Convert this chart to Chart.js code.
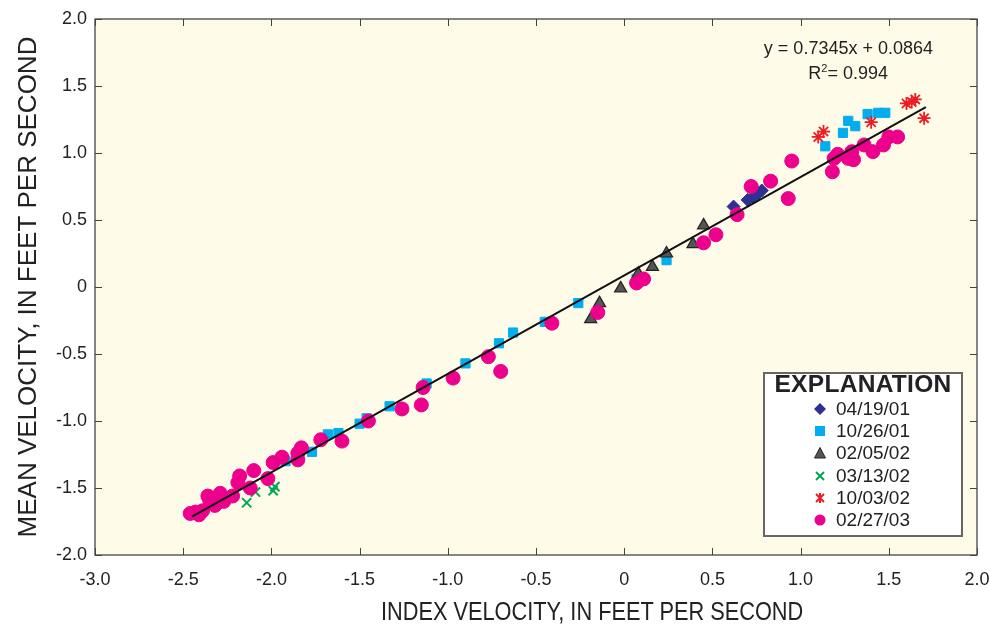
<!DOCTYPE html>
<html>
<head>
<meta charset="utf-8">
<script src="https://cdn.jsdelivr.net/npm/chart.js@4/dist/chart.umd.min.js"></script>
<style>
  body { margin: 0; background: #fff; }
  #wrap { position: relative; width: 989px; height: 627px; }
  #eq { position: absolute; left: 711px; top: 36px; width: 222px; text-align: right;
        font-family: "Liberation Sans", Arial, sans-serif; font-size: 18px; color: #222; line-height: 25px; }
  #eq .r2 { display: inline-block; margin-right: 45px; }
  #eq sup { font-size: 11px; line-height: 0; }
  #xtitle { position: absolute; left: 355px; top: 597px; width: 400px; text-align: center; white-space: nowrap;
            font-family: "Liberation Sans", Arial, sans-serif; font-size: 25px; color: #222;
            transform: scaleX(0.87); transform-origin: center; }
  #legend { position: absolute; left: 763px; top: 372px; width: 196px; height: 161px;
            background: #fff; border: 2px solid #666; font-family: "Liberation Sans", Arial, sans-serif; color: #222; }
  #legend .ttl { position: absolute; left: 0; right: 0; top: -4px; font-weight: bold; font-size: 24.5px; text-align: center; letter-spacing: 0.3px; }
  #legend .row { position: absolute; left: 0; font-size: 19px; height: 22px; line-height: 22px; }
  #legend .row svg { position: absolute; left: 49px; top: 5px; }
  #legend .row span { position: absolute; left: 71px; white-space: nowrap; }
</style>
</head>
<body>
<div id="wrap">
  <canvas id="chart" width="989" height="627"></canvas>
  <div id="eq">y = 0.7345x + 0.0864<br><span class="r2">R<sup>2</sup>= 0.994</span></div>
  <div id="xtitle">INDEX VELOCITY, IN FEET PER SECOND</div>
  <div id="legend"><div class="ttl">EXPLANATION</div></div>
</div>
<script>
// 数据：各测量日期的 (指数流速, 平均流速)
const labels = ['04/19/01', '10/26/01', '02/05/02', '03/13/02', '10/03/02', '02/27/03'];

const x041901 = [0.62, 0.70, 0.73, 0.76, 0.78];
const y041901 = [0.60, 0.65, 0.67, 0.70, 0.72];

const x102601 = [-1.92, -1.77, -1.68, -1.62, -1.50, -1.46, -1.33, -1.12, -0.90, -0.71, -0.63, -0.45, -0.26, 0.07, 0.24, 1.14, 1.24, 1.27, 1.31, 1.38, 1.44, 1.48];
const y102601 = [-1.30, -1.23, -1.10, -1.09, -1.02, -0.98, -0.89, -0.72, -0.57, -0.42, -0.34, -0.26, -0.12, 0.06, 0.20, 1.05, 1.15, 1.24, 1.20, 1.29, 1.30, 1.30];

const x020502 = [-0.19, -0.14, -0.02, 0.08, 0.16, 0.24, 0.39, 0.45];
const y020502 = [-0.24, -0.12, -0.01, 0.10, 0.15, 0.25, 0.32, 0.46];

const x031302 = [-2.14, -2.09, -1.99, -1.98];
const y031302 = [-1.61, -1.53, -1.52, -1.49];

const x100302 = [1.10, 1.13, 1.40, 1.60, 1.63, 1.65, 1.70];
const y100302 = [1.12, 1.16, 1.23, 1.37, 1.38, 1.40, 1.26];

const x022703 = [-2.46, -2.43, -2.41, -2.39, -2.36, -2.35, -2.33, -2.32, -2.31, -2.29, -2.27, -2.22, -2.19, -2.18, -2.12, -2.10, -2.02, -1.99, -1.94, -1.85, -1.85, -1.83, -1.72, -1.60, -1.45, -1.26, -1.15, -1.14, -0.97, -0.77, -0.70, -0.41, -0.15, 0.07, 0.11, 0.45, 0.52, 0.64, 0.72, 0.83, 0.93, 0.95, 1.18, 1.19, 1.21, 1.27, 1.30, 1.29, 1.36, 1.41, 1.47, 1.50, 1.55];
const y022703 = [-1.69, -1.68, -1.70, -1.67, -1.56, -1.59, -1.61, -1.63, -1.58, -1.54, -1.60, -1.56, -1.46, -1.41, -1.50, -1.37, -1.43, -1.31, -1.27, -1.29, -1.24, -1.20, -1.14, -1.15, -1.00, -0.91, -0.88, -0.75, -0.68, -0.52, -0.63, -0.27, -0.19, 0.03, 0.06, 0.33, 0.39, 0.54, 0.75, 0.79, 0.66, 0.94, 0.86, 0.96, 0.99, 0.96, 0.95, 1.01, 1.06, 1.01, 1.06, 1.12, 1.12];

// 回归线
const slope = 0.7345;
const intercept = 0.0864;
const fitX = [-2.45, 1.71];

const xTicks = [-3, -2.5, -2, -1.5, -1, -0.5, 0, 0.5, 1, 1.5, 2];
const yTicks = [-2, -1.5, -1, -0.5, 0, 0.5, 1, 1.5, 2];

const styles = [
    { style: 'rectRot', color: '#2e3192', border: '#2e3192', r: 6.5, bw: 1 },
    { style: 'rect', color: '#00aeef', border: '#00aeef', r: 6.5, bw: 1 },
    { style: 'triangle', color: '#555', border: '#222', r: 7, bw: 1.2 },
    { style: 'crossRot', color: '#00a651', border: '#00a651', r: 6.5, bw: 2 },
    { style: 'star', color: '#ed1c24', border: '#ed1c24', r: 6.5, bw: 1.8 },
    { style: 'circle', color: '#ec008c', border: '#ec008c', r: 7, bw: 1 }
];
const xs = [x041901, x102601, x020502, x031302, x100302, x022703];
const ys = [y041901, y102601, y020502, y031302, y100302, y022703];

function pts(xa, ya) {
    return xa.map((v, i) => ({ x: v, y: ya[i] }));
}

const datasets = [{
    type: 'line',
    data: fitX.map(v => ({ x: v, y: slope * v + intercept })),
    borderColor: '#111',
    borderWidth: 2,
    pointRadius: 0,
    fill: false,
    order: 0
}];
// 绘制顺序：粉色圆点在最下面
[5, 1, 2, 0, 3, 4].forEach(i => {
    const s = styles[i];
    datasets.push({
        label: labels[i],
        data: pts(xs[i], ys[i]),
        pointStyle: s.style,
        pointRadius: s.r,
        pointBackgroundColor: s.color,
        pointBorderColor: s.border,
        pointBorderWidth: s.bw,
        order: 10 - i
    });
});

// 图例（HTML）
const legendEl = document.getElementById('legend');
const svgs = {
    rectRot: c => `<polygon points="6,0 12,6 6,12 0,6" fill="${c}"/>`,
    rect: c => `<rect x="1" y="1" width="10" height="10" fill="${c}"/>`,
    triangle: c => `<polygon points="6,0.5 11.5,11 0.5,11" fill="#555" stroke="#222" stroke-width="1"/>`,
    crossRot: c => `<path d="M2,2 L10,10 M10,2 L2,10" stroke="${c}" stroke-width="2"/>`,
    star: c => `<path d="M2,2 L10,10 M10,2 L2,10 M6,1 L6,11" stroke="${c}" stroke-width="2"/>`,
    circle: c => `<circle cx="6" cy="6" r="5.5" fill="${c}"/>`
};
labels.forEach((lab, i) => {
    const row = document.createElement('div');
    row.className = 'row';
    row.style.top = (24 + i * 22.2) + 'px';
    row.innerHTML = `<svg width="12" height="12">${svgs[styles[i].style](styles[i].color)}</svg><span>${lab}</span>`;
    legendEl.appendChild(row);
});

// 背景和内向刻度
const framePlugin = {
    id: 'frame',
    beforeDraw(chart) {
        const { ctx, chartArea: a } = chart;
        ctx.save();
        ctx.fillStyle = '#fefbe9';
        ctx.fillRect(a.left, a.top, a.right - a.left, a.bottom - a.top);
        ctx.restore();
    },
    afterDatasetsDraw(chart) {
        const { ctx, chartArea: a, scales } = chart;
        ctx.save();
        ctx.strokeStyle = '#444';
        ctx.lineWidth = 1.3;
        ctx.strokeRect(a.left, a.top, a.right - a.left, a.bottom - a.top);
        ctx.lineWidth = 1;
        const len = 7;
        xTicks.forEach(v => {
            const px = Math.round(scales.x.getPixelForValue(v)) + 0.5;
            ctx.beginPath();
            ctx.moveTo(px, a.bottom); ctx.lineTo(px, a.bottom - len);
            ctx.moveTo(px, a.top); ctx.lineTo(px, a.top + len);
            ctx.stroke();
        });
        yTicks.forEach(v => {
            const py = Math.round(scales.y.getPixelForValue(v)) + 0.5;
            ctx.beginPath();
            ctx.moveTo(a.left, py); ctx.lineTo(a.left + len, py);
            ctx.moveTo(a.right, py); ctx.lineTo(a.right - len, py);
            ctx.stroke();
        });
        ctx.restore();
    }
};

function fmt(v) {
    return v === 0 ? '0' : v.toFixed(1);
}

new Chart(document.getElementById('chart'), {
    type: 'scatter',
    data: { datasets: datasets },
    options: {
        responsive: false,
        animation: false,
        layout: { padding: { left: 0, top: 19, right: 12, bottom: 0 } },
        plugins: { legend: { display: false }, tooltip: { enabled: false } },
        scales: {
            x: {
                type: 'linear',
                min: -3, max: 2,
                afterBuildTicks: s => { s.ticks = xTicks.map(v => ({ value: v })); },
                afterFit: s => { s.height = 72; s.paddingLeft = 0; s.paddingRight = 0; },
                grid: { display: false, drawTicks: false },
                border: { display: false },
                ticks: {
                    padding: 14,
                    color: '#222',
                    font: { family: '"Liberation Sans", Arial', size: 18 },
                    callback: v => fmt(v)
                }
            },
            y: {
                type: 'linear',
                min: -2, max: 2,
                afterBuildTicks: s => { s.ticks = yTicks.map(v => ({ value: v })); },
                afterFit: s => { s.width = 95; s.paddingTop = 0; s.paddingBottom = 0; },
                grid: { display: false, drawTicks: false },
                border: { display: false },
                ticks: {
                    padding: 8,
                    color: '#222',
                    font: { family: '"Liberation Sans", Arial', size: 18 },
                    callback: v => fmt(v)
                },
                title: {
                    display: true,
                    text: 'MEAN VELOCITY, IN FEET PER SECOND',
                    color: '#222',
                    font: { family: '"Liberation Sans", Arial', size: 26 },
                    padding: { top: 13, bottom: 0 }
                }
            }
        }
    },
    plugins: [framePlugin]
});
</script>
</body>
</html>
